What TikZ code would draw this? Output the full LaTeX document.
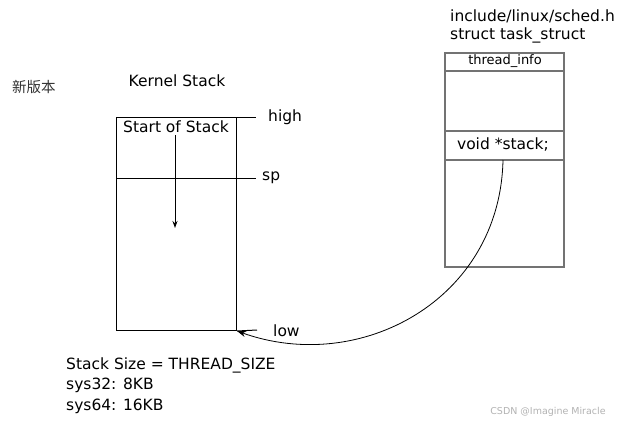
\documentclass[tikz,border=0pt]{standalone}
\usepackage{fontspec}
\setmainfont{DejaVu Sans}
\newfontfamily\cjk{Noto Sans CJK SC}
\usetikzlibrary{arrows.meta}
\begin{document}
\begin{tikzpicture}[x=1pt,y=-1pt,
    labeltext/.style={font=\fontsize{15.5}{18}\selectfont, inner sep=0pt},
    stackframe/.style={draw, line width=1pt, inner sep=0pt, anchor=north west},
    fieldframe/.style={draw=black!55, line width=1.6pt, inner sep=0pt, anchor=north west},
    tick/.style={line width=1pt}]
\useasboundingbox (0,0) rectangle (618,424);

% Kernel stack
\node[stackframe, minimum width=120pt, minimum height=213pt] (stack) at (116,117) {};
\node[labeltext] (kstack) at (177,81) {Kernel Stack};
\node[labeltext] (start) at (176,127) {Start of Stack};
\coordinate (spleft) at (116,178);

% Marks on the right side
\draw[tick] (stack.north west) -- (256,117);
\draw[tick] (spleft) -- (256,178);
\draw[tick] (stack.south east) -- (257,330);
\node[labeltext, anchor=west] (high) at (268,117) {high};
\node[labeltext, anchor=west] (sp) at (262,178) {sp};
\node[labeltext, anchor=west] (low) at (273,331) {low};

% Growth direction
\draw[line width=1pt, -{Stealth[length=7pt,width=5pt]}] (start.south) ++(-1,2) -- (175,228);

% task_struct
\node[labeltext, anchor=west] (hdr) at (450,16) {include/linux/sched.h};
\node[labeltext, anchor=west] (tsk) at (450,35) {struct task\_struct};
\node[fieldframe, minimum width=119pt, minimum height=214pt] (task) at (444,52) {};
\draw[draw=black!55, line width=1.6pt] (444,71) -- (563,71);
\draw[draw=black!55, line width=1.6pt] (444,131) -- (563,131);
\draw[draw=black!55, line width=1.6pt] (444,160) -- (563,160);
\node[labeltext, font=\fontsize{13}{15}\selectfont] (tinfo) at (505,61) {thread\_info};
\node[labeltext] (stackptr) at (503,145) {void *stack;};

% Pointer to the stack
\coordinate (ptr) at (503,160);
\draw[line width=0.8pt, -{Stealth[length=9pt,width=6pt]}] (ptr) .. controls (500,300) and (360,375) .. (stack.south east);

% Size notes
\node[labeltext, anchor=west] (size) at (66,365) {Stack Size = THREAD\_SIZE};
\node[labeltext, anchor=west] (s32) at (66,385) {sys32: 8KB};
\node[labeltext, anchor=west] (s64) at (66,406) {sys64: 16KB};

% Version note and watermark
\node[font=\cjk\fontsize{14.5}{16}\selectfont, text=black!80, inner sep=0pt] (ver) at (34,87) {新版本};
\node[font=\fontsize{9.5}{11}\selectfont, text=black!30, inner sep=0pt] (mark) at (548,412) {CSDN @Imagine Miracle};
\end{tikzpicture}
\end{document}
